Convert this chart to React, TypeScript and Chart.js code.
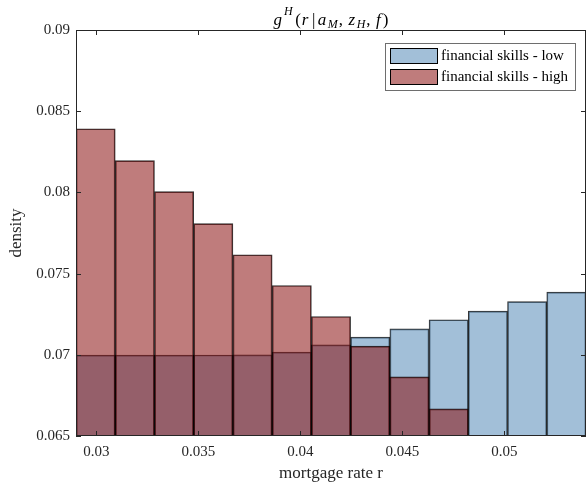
import React, { useEffect, useRef } from "react";
import { Chart, registerables } from "chart.js";

Chart.register(...registerables);

const FONT = "'Liberation Serif', 'Times New Roman', serif";
const TEXT_COLOR = "#262626";

// histogram bins (centres) on mortgage rate r
const binCenters = [
  0.029962, 0.031885, 0.033808, 0.035731, 0.037654, 0.039577, 0.0415,
  0.043423, 0.045346, 0.047269, 0.049192, 0.051115, 0.053038,
];
const lowSkills = [
  0.06998, 0.06998, 0.06998, 0.06999, 0.07, 0.07016, 0.07061, 0.07109,
  0.0716, 0.07216, 0.07269, 0.07327, 0.07386,
];
const highSkills: (number | null)[] = [
  0.08392, 0.08196, 0.08005, 0.07808, 0.07616, 0.07427, 0.07236, 0.07053,
  0.06864, 0.06667, null, null, null,
];
const seriesLabels = ["financial skills - low", "financial skills - high"];

const xTicks = [0.03, 0.035, 0.04, 0.045, 0.05];
const xTickLabels = ["0.03", "0.035", "0.04", "0.045", "0.05"];
const yTicks = [0.065, 0.07, 0.075, 0.08, 0.085, 0.09];
const yTickLabels = ["0.065", "0.07", "0.075", "0.08", "0.085", "0.09"];

const X_MIN = 0.029;
const X_MAX = 0.054;
const Y_MIN = 0.065;
const Y_MAX = 0.09;

const xTitle = "mortgage rate r";
const yTitle = "density";

type Part = { text: string; style: "var" | "op" | "sup" | "sub" };
const titleParts: Part[] = [
  { text: "g", style: "var" },
  { text: "H", style: "sup" },
  { text: "(", style: "op" },
  { text: "r", style: "var" },
  { text: "|", style: "op" },
  { text: "a", style: "var" },
  { text: "M", style: "sub" },
  { text: ",", style: "op" },
  { text: "z", style: "var" },
  { text: "H", style: "sub" },
  { text: ",", style: "op" },
  { text: "f", style: "var" },
  { text: ")", style: "op" },
];

const BLUE_FILL = "rgba(86,139,184,0.55)";
const RED_FILL = "rgba(139,17,17,0.55)";
const BAR_EDGE = "rgba(0,0,0,0.8)";

const partFont = (s: Part["style"]) => {
  if (s === "var") return `italic 17px ${FONT}`;
  if (s === "op") return `17px ${FONT}`;
  return `italic 12px ${FONT}`;
};
const partShift = (s: Part["style"]) => (s === "sup" ? -10 : s === "sub" ? 3 : 0);
const partSpace = (p: Part) => {
  if (p.text === ",") return [0, 5];
  if (p.text === "|") return [2, 2];
  if (p.style === "var") return [0.5, 1.5];
  if (p.style === "sup") return [0.5, 2];
  if (p.style === "sub") return [0, 1];
  return [0.5, 0.5];
};

const titlePlugin = {
  id: "mathTitle",
  afterDraw(chart: any) {
    const ctx = chart.ctx as CanvasRenderingContext2D;
    const { left, right } = chart.chartArea;
    ctx.save();
    ctx.fillStyle = "#000";
    ctx.textBaseline = "alphabetic";
    ctx.textAlign = "left";
    let total = 0;
    const widths = titleParts.map((p) => {
      ctx.font = partFont(p.style);
      const [a, b] = partSpace(p);
      const w = ctx.measureText(p.text).width + a + b;
      total += w;
      return w;
    });
    let x = (left + right) / 2 - total / 2;
    const baseY = 25;
    titleParts.forEach((p, i) => {
      ctx.font = partFont(p.style);
      const [a] = partSpace(p);
      ctx.fillText(p.text, x + a, baseY + partShift(p.style));
      x += widths[i];
    });
    ctx.restore();
  },
};

const framePlugin = {
  id: "frame",
  afterDatasetsDraw(chart: any) {
    const ctx = chart.ctx as CanvasRenderingContext2D;
    const { left, right, top, bottom } = chart.chartArea;
    const xs = chart.scales.x;
    const ys = chart.scales.y;
    ctx.save();
    ctx.strokeStyle = TEXT_COLOR;
    ctx.lineWidth = 1;
    ctx.strokeRect(left + 0.5, top + 0.5, right - left - 1, bottom - top - 1);
    const tl = 5;
    ctx.beginPath();
    xTicks.forEach((v) => {
      const px = Math.round(xs.getPixelForValue(v)) + 0.5;
      ctx.moveTo(px, bottom);
      ctx.lineTo(px, bottom - tl);
      ctx.moveTo(px, top);
      ctx.lineTo(px, top + tl);
    });
    yTicks.forEach((v) => {
      const py = Math.round(ys.getPixelForValue(v)) + 0.5;
      ctx.moveTo(left, py);
      ctx.lineTo(left + tl, py);
      ctx.moveTo(right, py);
      ctx.lineTo(right - tl, py);
    });
    ctx.stroke();
    ctx.restore();
  },
};

const legendPlugin = {
  id: "boxLegend",
  afterDraw(chart: any) {
    const ctx = chart.ctx as CanvasRenderingContext2D;
    const { right, top } = chart.chartArea;
    const bx = right - 201;
    const by = top + 13;
    const bw = 190;
    const bh = 47;
    ctx.save();
    ctx.fillStyle = "#fff";
    ctx.fillRect(bx, by, bw, bh);
    ctx.strokeStyle = "#6e6e6e";
    ctx.lineWidth = 1;
    ctx.strokeRect(bx + 0.5, by + 0.5, bw, bh);
    chart.data.datasets.forEach((ds: any, i: number) => {
      const sy = by + 5.5 + i * 21;
      ctx.fillStyle = ds.backgroundColor;
      ctx.fillRect(bx + 5.5, sy, 47, 15);
      ctx.strokeStyle = "#000";
      ctx.strokeRect(bx + 5.5, sy, 47, 15);
      ctx.fillStyle = "#000";
      ctx.font = `15px ${FONT}`;
      ctx.textBaseline = "middle";
      ctx.textAlign = "left";
      ctx.fillText(ds.label, bx + 56, sy + 8);
    });
    ctx.restore();
  },
};

export default function App() {
  const ref = useRef<HTMLCanvasElement>(null);
  useEffect(() => {
    const canvas = ref.current;
    if (!canvas) return;
    const chart = new Chart(canvas, {
      type: "bar",
      data: {
        datasets: [
          {
            label: seriesLabels[0],
            data: binCenters.map((x, i) => ({ x, y: lowSkills[i] })) as any,
            backgroundColor: BLUE_FILL,
            borderColor: BAR_EDGE,
            borderWidth: 1,
            borderSkipped: false,
            barPercentage: 1,
            categoryPercentage: 1,
            grouped: false,
            order: 1,
          },
          {
            label: seriesLabels[1],
            data: binCenters.map((x, i) => ({ x, y: highSkills[i] })) as any,
            backgroundColor: RED_FILL,
            borderColor: BAR_EDGE,
            borderWidth: 1,
            borderSkipped: false,
            barPercentage: 1,
            categoryPercentage: 1,
            grouped: false,
            order: 0,
          },
        ],
      },
      options: {
        responsive: false,
        animation: false,
        layout: { padding: { top: 30, right: 0, left: 0, bottom: 0 } },
        plugins: {
          legend: { display: false },
          title: { display: false },
          tooltip: { enabled: false },
        },
        scales: {
          x: {
            type: "linear",
            min: X_MIN,
            max: X_MAX,
            offset: false,
            grid: { display: false, drawTicks: false },
            border: { display: false },
            afterBuildTicks: (s: any) => {
              s.ticks = xTicks.map((v) => ({ value: v }));
            },
            afterFit: (s: any) => {
              s.height = 50;
            },
            ticks: {
              autoSkip: false,
              maxRotation: 0,
              padding: 7,
              color: TEXT_COLOR,
              font: { family: FONT, size: 15 },
              callback: (v: any) => {
                const i = xTicks.findIndex((t) => Math.abs(t - Number(v)) < 1e-9);
                return i >= 0 ? xTickLabels[i] : "";
              },
            },
            title: {
              display: true,
              text: xTitle,
              color: TEXT_COLOR,
              font: { family: FONT, size: 17 },
              padding: { top: 0, bottom: 2 },
            },
          },
          y: {
            type: "linear",
            min: Y_MIN,
            max: Y_MAX,
            grid: { display: false, drawTicks: false },
            border: { display: false },
            afterBuildTicks: (s: any) => {
              s.ticks = yTicks.map((v) => ({ value: v }));
            },
            afterFit: (s: any) => {
              s.width = 76;
            },
            ticks: {
              autoSkip: false,
              padding: 6,
              color: TEXT_COLOR,
              font: { family: FONT, size: 15 },
              callback: (v: any) => {
                const i = yTicks.findIndex((t) => Math.abs(t - Number(v)) < 1e-9);
                return i >= 0 ? yTickLabels[i] : "";
              },
            },
            title: {
              display: true,
              text: yTitle,
              color: TEXT_COLOR,
              font: { family: FONT, size: 17 },
              padding: { top: 6, bottom: 0 },
            },
          },
        },
      },
      plugins: [framePlugin, legendPlugin, titlePlugin],
    } as any);
    return () => chart.destroy();
  }, []);

  return (
    <div style={{ position: "fixed", left: 0, top: 0, width: 586, height: 486, background: "#fff" }}>
      <canvas ref={ref} width={586} height={486} style={{ display: "block" }} />
    </div>
  );
}
